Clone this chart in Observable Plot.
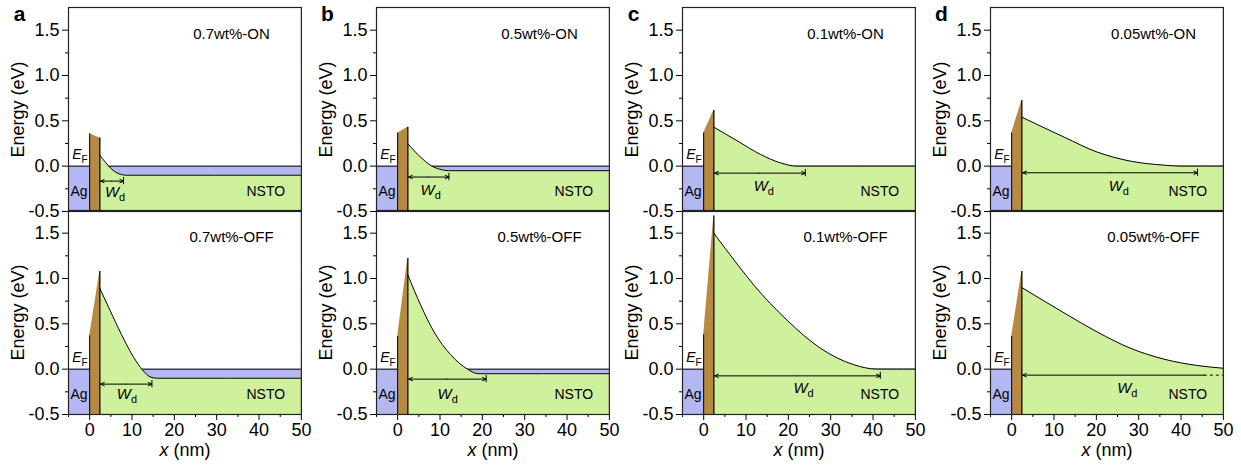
<!DOCTYPE html>
<html><head><meta charset="utf-8">
<script src="https://cdn.jsdelivr.net/npm/d3@7"></script>
<script src="https://cdn.jsdelivr.net/npm/@observablehq/plot@0.6"></script>
<style>
body{margin:0;background:#fff;}
#root{position:relative;width:1241px;height:472px;overflow:hidden;font-family:"Liberation Sans",Arial,sans-serif;}
.panel{position:absolute;}
.panel svg{overflow:visible;background:transparent !important;}
</style></head><body><div id="root"></div>
<script>
// ---- data (panel order: a-ON, a-OFF, b-ON, b-OFF, c-ON, c-OFF, d-ON, d-OFF)
const panelLetters = ["a", "b", "c", "d"];
const titles = ["0.7wt%-ON", "0.7wt%-OFF", "0.5wt%-ON", "0.5wt%-OFF", "0.1wt%-ON", "0.1wt%-OFF", "0.05wt%-ON", "0.05wt%-OFF"];
const yMajorTicks = [-0.5, 0, 0.5, 1.0, 1.5];
const yMinorTicks = [-0.25, 0.25, 0.75, 1.25];
const xMajorTicks = [0, 10, 20, 30, 40, 50];
const xMinorTicks = [-5, 5, 15, 25, 35, 45];
const barrierEdges = [0, 2.4];
const barrierTopLeft = [0.357, 0.367, 0.364, 0.36, 0.364, 0.378, 0.364, 0.36];
const barrierTopRight = [0.31, 1.076, 0.43, 1.22, 0.614, 1.69, 0.724, 1.076];
// conduction band of NSTO
const aOnX = [2.4, 3.7, 4.9, 6.1, 7.3, 8.5, 50];
const aOnY = [0.118, 0.044, -0.02, -0.066, -0.09, -0.1, -0.1];
const aOffX = [2.4, 4.5, 6.5, 8.5, 10.4, 12.5, 14.5, 16, 50];
const aOffY = [0.89, 0.68, 0.48, 0.29, 0.13, -0.01, -0.09, -0.1, -0.1];
const bOnX = [2.4, 5.4, 7.8, 10, 12, 50];
const bOnY = [0.247, 0.1, 0.008, -0.035, -0.05, -0.05];
const bOffX = [2.4, 5.4, 8.6, 12.5, 16.5, 19, 50];
const bOffY = [1.04, 0.71, 0.41, 0.16, 0.0, -0.05, -0.05];
const cOnX = [2.4, 7.9, 13.4, 18.1, 22, 50];
const cOnY = [0.43, 0.28, 0.13, 0.037, 0, 0];
const cOffX = [2.4, 7.9, 11.8, 19.7, 27.6, 35.4, 41, 50];
const cOffY = [1.5, 1.16, 0.93, 0.54, 0.23, 0.05, 0, 0];
const dOnX = [2.4, 12.4, 20.2, 28.1, 36, 40, 50];
const dOnY = [0.54, 0.32, 0.155, 0.055, 0.011, 0, 0];
const dOffX = [2.4, 12.4, 20.2, 28.1, 36, 43.9, 50];
const dOffY = [0.9, 0.62, 0.41, 0.23, 0.11, 0.04, 0.01];
const wdLevel = [-0.165, -0.165, -0.12, -0.11, -0.077, -0.074, -0.073, -0.066];
const wdEnd = [8.0, 14.7, 12.1, 20.9, 24, 41.7, 43.9, 45.5];
const wdLabelX = [6, 8.8, 7.8, 11.8, 14.2, 23.6, 25.3, 27.3];
const wdLabelY = [-0.29, -0.28, -0.27, -0.28, -0.22, -0.21, -0.22, -0.21];

const curvesX = [aOnX, aOffX, bOnX, bOffX, cOnX, cOffX, dOnX, dOffX];
const curvesY = [aOnY, aOffY, bOnY, bOffY, cOnY, cOffY, dOnY, dOffY];

// ---- style / layout
const BLUE = "#b3b8f3", GREEN = "#cff09d", BROWN = "#b68a40";
const colLeft = [68.1, 376.2, 682.1, 989.8];
const rowTop = [6.7, 210.3];
const frameW = 232.9, frameH = 204;
const FONT = "'Liberation Sans', Arial, sans-serif";

const rich = {
  "E_F": s => { s.append("tspan").attr("font-style", "italic").text("E");
                s.append("tspan").attr("font-size", 10).attr("dy", 4).text("F"); },
  "W_d": s => { s.append("tspan").attr("font-style", "italic").text("W");
                s.append("tspan").attr("font-size", 11).attr("dy", 4).text("d"); },
  "x (nm)": s => { s.append("tspan").attr("font-style", "italic").text("x");
                   s.append("tspan").text(" (nm)"); }
};

function makePanel(ci, ri) {
  const k = ci * 2 + ri;
  const cb = curvesX[k].map((x, i) => ({x, y: curvesY[k][i]}));
  const bottom = ri === 1;
  const mL = 62, mR = 6, mT = 8, mB = bottom ? 62 : 4;
  const wd = wdLevel[k], we = wdEnd[k];
  const mid = (2.4 + we) / 2;
  const dashed = k === 7;
  const marks = [
    Plot.areaY([{x: -5}, {x: 50}], {x: "x", y1: () => -0.5, y2: () => 0, fill: BLUE}),
    Plot.ruleY([0], {x1: -5, x2: 50, stroke: "black", strokeWidth: 1}),
    Plot.areaY(barrierEdges.map((x, i) => ({x, y: i ? barrierTopRight[k] : barrierTopLeft[k]})),
      {x: "x", y1: () => -0.5, y2: "y", fill: BROWN}),
    Plot.areaY(cb, {x: "x", y1: () => -0.5, y2: "y", fill: GREEN, curve: "monotone-x"}),
    Plot.line(cb, {x: "x", y: "y", stroke: "black", strokeWidth: 1, curve: "monotone-x"}),
    Plot.ruleX([0], {y1: -0.5, y2: barrierTopLeft[k], stroke: "black", strokeWidth: 1}),
    Plot.ruleX([2.4], {y1: -0.5, y2: barrierTopRight[k], stroke: "black", strokeWidth: 1.3}),
    // W_d arrow
    dashed
      ? Plot.arrow([{x1: we, x2: 2.6}], {x1: "x1", x2: "x2", y1: () => wd, y2: () => wd, stroke: "black", strokeWidth: 1, headLength: 6, headAngle: 50})
      : Plot.arrow([{x1: mid, x2: 2.6}, {x1: mid, x2: we}], {x1: "x1", x2: "x2", y1: () => wd, y2: () => wd, stroke: "black", strokeWidth: 1, headLength: 6, headAngle: 50}),
    dashed
      ? Plot.ruleY([wd], {x1: we, x2: 50, stroke: "black", strokeWidth: 1, strokeDasharray: "3,3"})
      : Plot.ruleX([we], {y1: wd - 0.04, y2: wd + 0.04, stroke: "black", strokeWidth: 1}),
    // labels
    Plot.text(["W_d"], {x: () => wdLabelX[k], y: () => wdLabelY[k], fontSize: 15, fill: "black"}),
    Plot.text(["Ag"], {x: () => -2.5, y: () => -0.28, fontSize: 14, fill: "black"}),
    Plot.text(["NSTO"], {x: () => 41.6, y: () => -0.28, fontSize: 14, fill: "black"}),
    Plot.text(["E_F"], {x: () => -2.3, y: () => 0.13, fontSize: 14, fill: "black"}),
    Plot.text([titles[k]], {x: () => 33.5, y: () => 1.46, fontSize: 15, fill: "black"}),
    Plot.frame({stroke: "#222", strokeWidth: 1.2}),
    Plot.axisY(yMajorTicks, {tickSize: 6, tickPadding: 3, tickFormat: d => d.toFixed(1), label: null, fontSize: 18}),
    Plot.axisY(yMinorTicks, {tickSize: 3, tickFormat: () => "", label: null}),
    Plot.text(["Energy (eV)"], {frameAnchor: "left", textAnchor: "middle", rotate: -90, dx: -50, fontSize: 18, fill: "black"})
  ];
  if (bottom) {
    marks.push(
      Plot.axisX(xMajorTicks, {tickSize: 6, tickPadding: 3, label: null, fontSize: 18}),
      Plot.axisX(xMinorTicks, {tickSize: 3, tickFormat: () => "", label: null}),
      Plot.text(["x (nm)"], {frameAnchor: "bottom", textAnchor: "middle", dy: 42, fontSize: 18, fill: "black"})
    );
  } else {
    marks.push(Plot.text([panelLetters[ci]], {frameAnchor: "top-left", textAnchor: "middle", lineAnchor: "bottom", dx: -49, dy: 13.3, fontSize: 21, fontWeight: "bold", fill: "black"}));
  }
  const svg = Plot.plot({
    width: mL + frameW + mR,
    height: mT + frameH + mB,
    marginLeft: mL, marginRight: mR, marginTop: mT, marginBottom: mB,
    x: {domain: [-5, 50], axis: null},
    y: {domain: [-0.5, 1.75], axis: null},
    style: {fontFamily: FONT, fontSize: "18px", background: "transparent", overflow: "visible", color: "black"},
    marks
  });
  d3.select(svg).selectAll("text").each(function () {
    const t = this.textContent;
    if (rich[t]) { const s = d3.select(this); s.text(""); rich[t](s); }
  });
  const div = document.createElement("div");
  div.className = "panel";
  div.style.left = (colLeft[ci] - mL) + "px";
  div.style.top = (rowTop[ri] - mT) + "px";
  div.appendChild(svg);
  return div;
}

const root = document.getElementById("root");
for (let ci = 0; ci < 4; ci++) {
  root.appendChild(makePanel(ci, 0));
}
for (let ci = 0; ci < 4; ci++) {
  root.appendChild(makePanel(ci, 1));
}
</script></body></html>
